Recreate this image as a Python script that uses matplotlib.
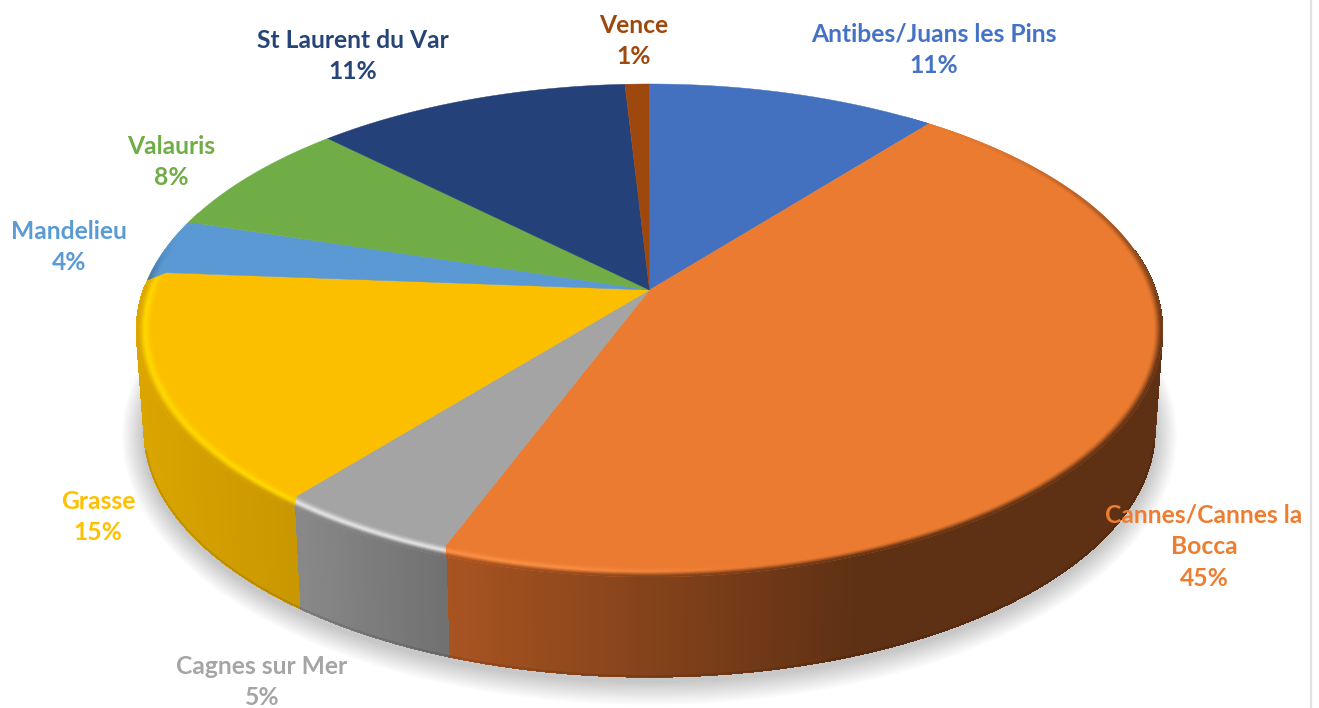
import numpy as np
import matplotlib
matplotlib.use('Agg')
import matplotlib.pyplot as plt
from matplotlib.collections import PolyCollection, LineCollection
from matplotlib.patches import Polygon

# data
cities = ['Antibes/Juans les Pins', 'Cannes/Cannes la\nBocca', 'Cagnes sur Mer', 'Grasse',
          'Mandelieu', 'Valauris', 'St Laurent du Var', 'Vence']
values = [10.7, 45.05, 5.1, 15.35, 3.6, 7.65, 11.65, 0.9]
pct_labels = ['11%', '45%', '5%', '15%', '4%', '8%', '11%', '1%']

# colours
top_colors = ['#4371C0', '#EB7B30', '#A4A4A4', '#FCBF00', '#5A99D4', '#70AD47', '#24417A', '#9E480E']
text_colors = ['#4472C4', '#ED7D31', '#A5A5A5', '#FFC000', '#5B9BD5', '#70AD47', '#264478', '#9E480E']
side_left = ['#2D4C82', '#A85421', '#888888', '#DAA500', '#3D6890', '#4B7530', '#182C52', '#6A3009']
side_right = ['#2D4C82', '#5E3014', '#707070', '#C89600', '#3D6890', '#4B7530', '#182C52', '#6A3009']
glow = ['#4371C0', '#FC9146', '#E6E6E6', '#FFD900', '#5A99D4', '#70AD47', '#24417A', '#9E480E']

label_xy = [(934, 50), (1204, 547), (262, 682), (98, 517), (69, 247), (171, 162), (353, 56), (634, 41)]

# projection of the disc (perspective, from the picture)
CX, CY = 649.5, 290
A, B, C = 506, 239.8, 0.164
DEPTH = 100
BOTTOM_SHRINK = 0.985


def rgb(c):
    return np.array(matplotlib.colors.to_rgb(c))


def smooth(a, b, v):
    t = np.clip((v - a) / (b - a), 0, 1)
    return t * t * (3 - 2 * t)


def project(r, deg, bottom=False):
    th = np.radians(deg)
    x = r * np.sin(th)
    y = r * np.cos(th)
    d = 1 + C * y
    px = A * x / d
    py = B * y / d
    if bottom:
        return CX + px * BOTTOM_SHRINK, CY + DEPTH - py
    return CX + px, CY - py


def wall_angle(deg):
    # slice seams run straight down the wall, not along the radius
    return deg - 2.2 * np.sin(np.radians(deg - 180)) * smooth(60, 110, deg) * (1 - smooth(270, 290, deg))


def side_color(i, x):
    # gradient runs left to right over the slice, cannes is dark from x=860 on
    if i == 1:
        t = np.clip((x - 447) / (860 - 447), 0, 1)
    elif i == 2:
        t = np.clip((x - 300) / (447 - 300), 0, 1)
    elif i == 3:
        t = np.clip((x - 140) / (300 - 140), 0, 1)
    else:
        t = 0.5
    return rgb(side_left[i]) * (1 - t) + rgb(side_right[i]) * t


fig = plt.figure(figsize=(13.19, 7.08), dpi=100)
ax = fig.add_axes([0, 0, 1, 1])
ax.set_xlim(0, 1319)
ax.set_ylim(708, 0)
ax.axis('off')

edges = np.concatenate([[0], np.cumsum(values)]) / np.sum(values) * 360

# soft shadow below the pie
circle = np.linspace(0, 360, 361)
bx, by = project(1.0, circle, bottom=True)
mx, my = bx.mean(), by.mean()
for d in np.arange(22, 0, -2):
    sx = mx + (bx - mx) * (1 + d / 505)
    sy = my + (by - my) * (1 + d / 247) + 4
    ax.add_patch(Polygon(np.column_stack([sx, sy]), closed=True, facecolor='black',
                         edgecolor='none', alpha=0.018, zorder=1))

# side wall
quads, cols = [], []
lines, line_cols = [], []
for i in range(len(values)):
    a = np.arange(edges[i], edges[i + 1], 0.5)
    a = np.append(a, edges[i + 1])
    for a0, a1 in zip(a[:-1], a[1:]):
        if a1 < 80 or a0 > 273:
            continue
        w0, w1 = wall_angle(a0), wall_angle(a1)
        x0, y0 = project(1.0, w0)
        x1, y1 = project(1.0, w1)
        x2, y2 = project(1.0, w1, bottom=True)
        x3, y3 = project(1.0, w0, bottom=True)
        quads.append([(x0, y0), (x1, y1), (x2, y2), (x3, y3)])
        col = side_color(i, (x0 + x1) / 2)
        cols.append(col)
        if 100 < a0 < 258:
            lines.append([(x3, y3 - 0.6), (x2, y2 - 0.6)])
            line_cols.append(col * 0.88)
ax.add_collection(PolyCollection(quads, facecolors=cols, edgecolors=cols, linewidths=0.6,
                                 antialiased=False, zorder=2))
ax.add_collection(LineCollection(lines, colors=line_cols, linewidths=1.2, zorder=3))

# top face
for i in range(len(values)):
    a = np.linspace(edges[i], edges[i + 1], 200)
    x, y = project(1.0, a)
    pts = np.column_stack([np.r_[CX, x], np.r_[CY, y]])
    ax.add_patch(Polygon(pts, closed=True, facecolor=top_colors[i], edgecolor=top_colors[i],
                         linewidth=0.3, zorder=4))

# bevel along the rim
BAND = 0.03
steps = np.linspace(0, 1, 15)
quads, cols = [], []
for i in range(len(values)):
    a = np.arange(edges[i], edges[i + 1], 0.5)
    a = np.append(a, edges[i + 1])
    for a0, a1 in zip(a[:-1], a[1:]):
        mid = (a0 + a1) / 2
        if mid < 35 or mid > 290:
            continue
        hl = smooth(165, 195, mid) * (1 - smooth(268, 285, mid))
        fade = smooth(35, 110, mid) * (1 - smooth(268, 285, mid))
        w0, w1 = wall_angle(a0), wall_angle(a1)
        for t0, t1 in zip(steps[:-1], steps[1:]):
            # t runs from the flat top (0) out to the wall (1)
            r0, r1 = 1 - BAND + BAND * t0, 1 - BAND + BAND * t1
            x0, y0 = project(r0, a0 + (w0 - a0) * t0)
            x1, y1 = project(r0, a1 + (w1 - a1) * t0)
            x2, y2 = project(r1, a1 + (w1 - a1) * t1)
            x3, y3 = project(r1, a0 + (w0 - a0) * t1)
            s = 1 - (t0 + t1) / 2
            amt = hl * np.exp(-((s - 0.5) / 0.3) ** 2)
            col = rgb(top_colors[i]) + (rgb(glow[i]) - rgb(top_colors[i])) * amt
            f = fade * (1 - smooth(0, 0.55, s))
            col = col + (side_color(i, (x0 + x1) / 2) - col) * f
            quads.append([(x0, y0), (x1, y1), (x2, y2), (x3, y3)])
            cols.append(col)
ax.add_collection(PolyCollection(quads, facecolors=cols, edgecolors=cols, linewidths=0.3, zorder=5))

# labels
for name, pct, (lx, ly), tc in zip(cities, pct_labels, label_xy, text_colors):
    ax.text(lx, ly, name + '\n' + pct, ha='center', va='center', multialignment='center',
            fontsize=17.7, fontweight='bold', family=['Lato', 'DejaVu Sans'], color=tc,
            linespacing=1.47, zorder=6)

# frame line on the right
ax.plot([1311, 1311], [0, 708], color='#E2E2E2', linewidth=1.6, zorder=1)

plt.savefig('out.png', dpi=100)
